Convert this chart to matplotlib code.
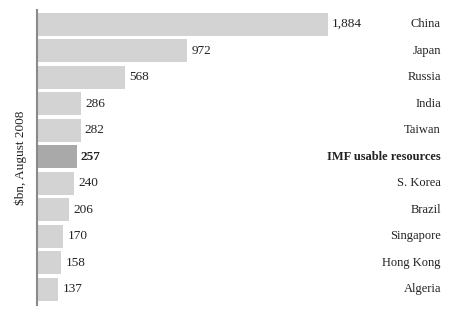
import matplotlib
matplotlib.use("Agg")
import matplotlib.pyplot as plt

categories = ["China", "Japan", "Russia", "India", "Taiwan", "IMF usable resources",
              "S. Korea", "Brazil", "Singapore", "Hong Kong", "Algeria"]
values = [1884, 972, 568, 286, 282, 257, 240, 206, 170, 158, 137]
value_labels = ["1,884", "972", "568", "286", "282", "257", "240", "206", "170", "158", "137"]
highlight = "IMF usable resources"

W, H = 460, 322
fig = plt.figure(figsize=(W / 100, H / 100), dpi=100)
ax = fig.add_axes([37 / W, 1 - 305 / H, (441 - 37) / W, 295 / H])

font = "Liberation Serif"
colors = ["#a9a9a9" if c == highlight else "#d3d3d3" for c in categories]
ypos = list(range(len(categories)))
ax.barh(ypos, values, height=0.87, color=colors, left=0)

ax.set_xlim(0, 2615)
ax.set_ylim(10.6, -0.53)

for y, v, lab, cat in zip(ypos, values, value_labels, categories):
    bold = "bold" if cat == highlight else "normal"
    ax.annotate(lab, (v, y), xytext=(3, 0), textcoords="offset points",
                ha="left", va="center", fontsize=9.5, family=font,
                fontweight=bold, color="#222222")
    ax.text(1.0, y, cat, transform=ax.get_yaxis_transform(), ha="right", va="center",
            fontsize=9, family=font, fontweight=bold, color="#222222")

for s in ["top", "right", "bottom"]:
    ax.spines[s].set_visible(False)
ax.spines["left"].set_color("#8a8a8a")
ax.spines["left"].set_linewidth(1.5)
ax.set_xticks([])
ax.set_yticks([])
ax.set_ylabel("$bn, August 2008", family=font, fontsize=9.5, color="#222222", labelpad=7)

fig.savefig("out.png", dpi=100)
